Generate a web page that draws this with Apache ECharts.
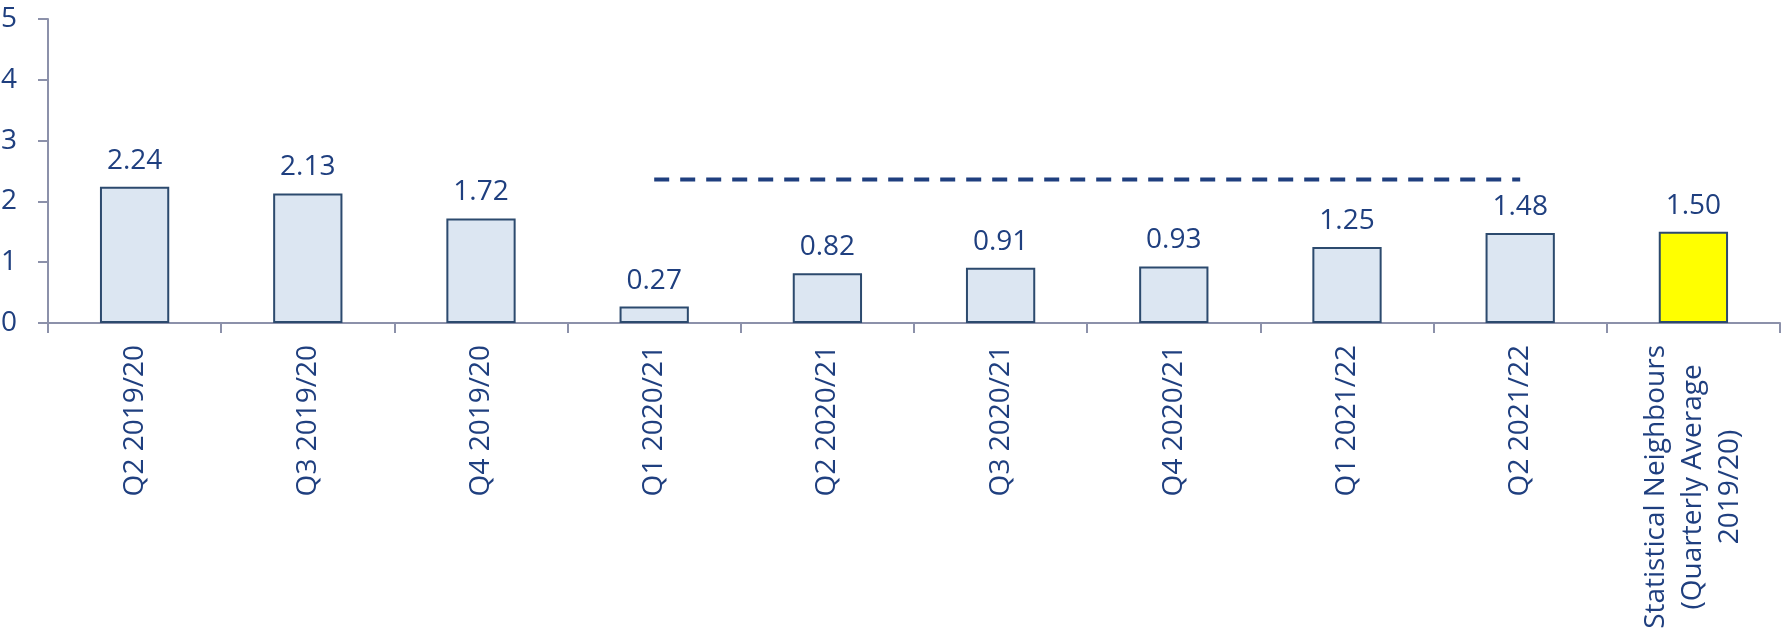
<!DOCTYPE html>
<html>
<head>
<meta charset="utf-8">
<script src="https://cdn.jsdelivr.net/npm/echarts@6/dist/echarts.min.js"></script>
<style>
  html, body { margin: 0; padding: 0; background: #ffffff; }
  #chart { width: 1787px; height: 628px; }
</style>
</head>
<body>
<div id="chart"></div>
<script>
const categories = [
  "Q2 2019/20", "Q3 2019/20", "Q4 2019/20", "Q1 2020/21", "Q2 2020/21",
  "Q3 2020/21", "Q4 2020/21", "Q1 2021/22", "Q2 2021/22",
  "Statistical Neighbours\n(Quarterly Average\n2019/20)"
];
const values = [2.24, 2.13, 1.72, 0.27, 0.82, 0.91, 0.93, 1.25, 1.48, 1.50];
// dashed reference line, from Q1 2020/21 to Q2 2021/22
const refLine = [null, null, null, 2.36, 2.36, 2.36, 2.36, 2.36, 2.36, null];
const yTicks = [0, 1, 2, 3, 4, 5];

const textColor = "#1F3F7F";
const axisColor = "#8C91AA";
const fontFamily = "'Open Sans', sans-serif";

const chart = echarts.init(document.getElementById("chart"));

const barData = values.map((v, i) => ({
  value: v,
  itemStyle: i === values.length - 1 ? { color: "#FFFF00" } : {}
}));

chart.setOption({
  animation: false,
  backgroundColor: "#ffffff",
  grid: { left: 48, right: 7, top: 19, bottom: 305, containLabel: false, outerBoundsMode: "none" },
  xAxis: {
    type: "category",
    data: categories,
    axisLine: { lineStyle: { color: axisColor, width: 2 } },
    axisTick: { show: true, length: 10, lineStyle: { color: axisColor, width: 2 } },
    axisLabel: {
      rotate: 90,
      interval: 0,
      margin: 22,
      color: textColor,
      fontSize: 28,
      fontFamily: fontFamily,
      lineHeight: 37,
      formatter: (v) => v.split("\n").map(s => "{c|" + s + "}").join("\n"),
      rich: { c: { align: "center", color: textColor, fontSize: 28, fontFamily: fontFamily, lineHeight: 37 } }
    }
  },
  yAxis: {
    type: "value",
    min: yTicks[0],
    max: yTicks[yTicks.length - 1],
    interval: 1,
    axisLine: { show: true, lineStyle: { color: axisColor, width: 2 } },
    axisTick: { show: true, length: 10, lineStyle: { color: axisColor, width: 2 } },
    splitLine: { show: false },
    axisLabel: { color: textColor, fontSize: 28, fontFamily: fontFamily, margin: 31 }
  },
  series: [
    {
      type: "bar",
      data: barData,
      barWidth: "40%",
      itemStyle: { color: "#DCE6F2", borderColor: "#2C4A6E", borderWidth: 2 },
      label: {
        show: true,
        position: "top",
        distance: 12,
        color: textColor,
        fontSize: 28,
        fontFamily: fontFamily,
        formatter: (p) => p.value.toFixed(2)
      }
    },
    {
      type: "line",
      data: refLine,
      symbol: "none",
      lineStyle: { color: textColor, width: 4, type: [15, 11] },
      z: 5
    }
  ]
});
</script>
</body>
</html>
